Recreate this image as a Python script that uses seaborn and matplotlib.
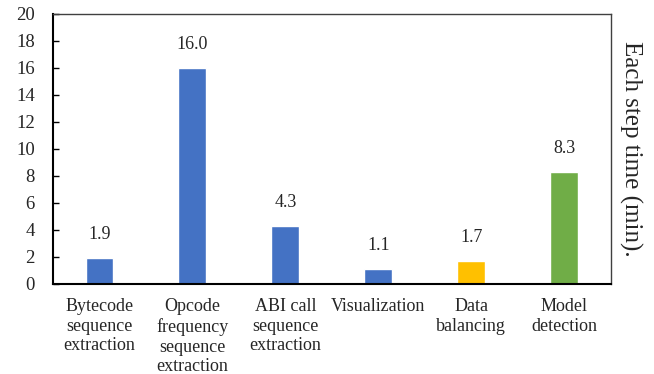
import matplotlib
matplotlib.use('Agg')
import matplotlib.pyplot as plt
import seaborn as sns
import pandas as pd

# Chart data
steps = ['Bytecode\nsequence\nextraction',
         'Opcode\nfrequency\nsequence\nextraction',
         'ABI call\nsequence\nextraction',
         'Visualization',
         'Data\nbalancing',
         'Model\ndetection']
times = [1.9, 16.0, 4.3, 1.1, 1.7, 8.3]
bar_colors = ['#4472C4', '#4472C4', '#4472C4', '#4472C4', '#FFC000', '#70AD47']

sns.set_style('white')
plt.rcParams['font.family'] = ['Liberation Serif', 'DejaVu Serif']

df = pd.DataFrame({'step': steps, 'time': times})

fig = plt.figure(figsize=(6.54, 3.74), dpi=100)
ax = fig.add_axes([0.081, 0.241, 0.853, 0.722])

sns.barplot(data=df, x='step', y='time', hue='step', palette=bar_colors,
            width=0.3, legend=False, saturation=1, ax=ax)

# value labels above bars
for i, v in enumerate(times):
    ax.annotate(f'{v:.1f}', (i, v), xytext=(0, 17), textcoords='offset points',
                ha='center', va='center', fontsize=13)

ax.set_xlim(-0.5, 5.5)
ax.set_ylim(0, 20)
ax.set_yticks(range(0, 21, 2))
ax.set_xlabel('')
ax.set_ylabel('')

# ticks between categories, pointing inward
ax.set_xticks([i - 0.5 for i in range(7)], minor=True)
ax.tick_params(axis='x', which='major', length=0, pad=10, labelsize=13)
ax.tick_params(axis='x', which='minor', direction='in', length=4, width=1, color='black')
ax.tick_params(axis='y', direction='in', length=4, width=1, color='black',
               left=True, pad=13, labelsize=13.5)
for lbl in ax.get_xticklabels():
    lbl.set_linespacing(1.22)

for side in ['left', 'bottom']:
    ax.spines[side].set_color('black')
    ax.spines[side].set_linewidth(1.5)
for side in ['top', 'right']:
    ax.spines[side].set_visible(True)
    ax.spines[side].set_color('#404040')
    ax.spines[side].set_linewidth(1.0)

ax.text(1.036, 0.5, 'Each step time (min).', transform=ax.transAxes,
        rotation=270, ha='center', va='center', fontsize=18)

fig.savefig('out.png', dpi=100)
